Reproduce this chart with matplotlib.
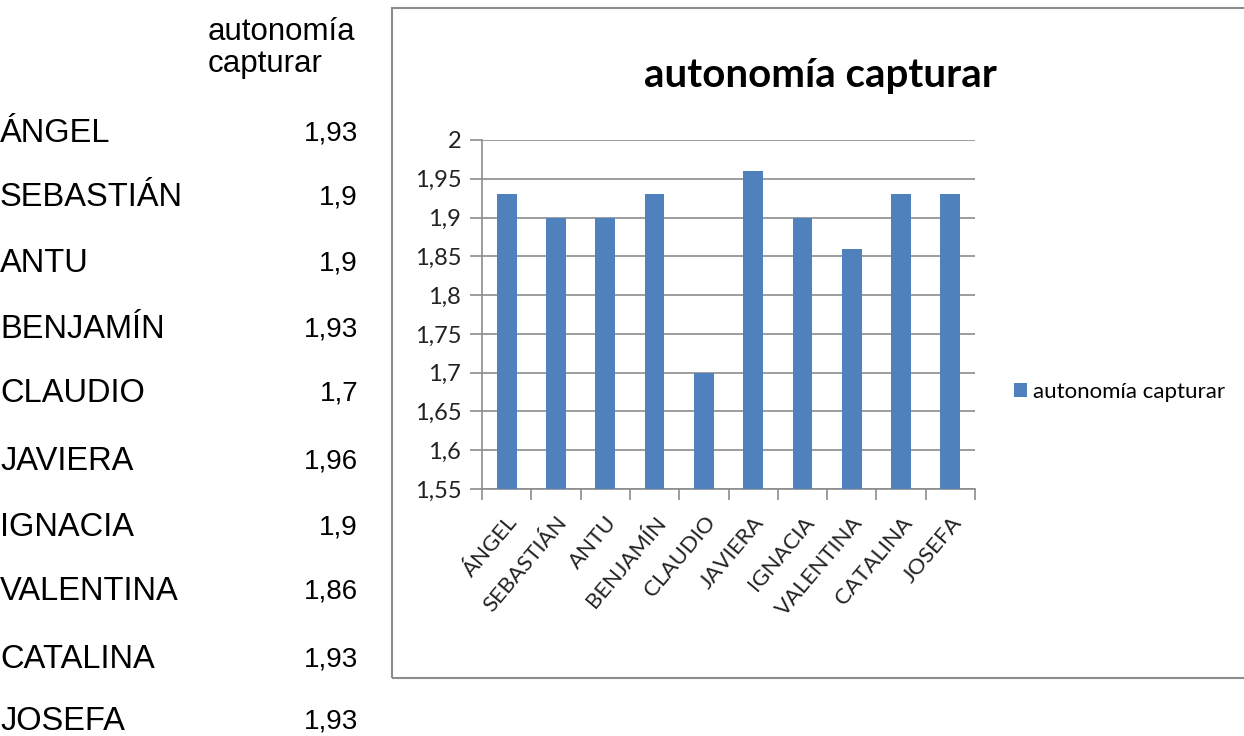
import matplotlib
matplotlib.use("Agg")
import matplotlib.pyplot as plt
from matplotlib.patches import Rectangle
from matplotlib.ticker import FixedLocator

names = ["ÁNGEL", "SEBASTIÁN", "ANTU", "BENJAMÍN", "CLAUDIO",
         "JAVIERA", "IGNACIA", "VALENTINA", "CATALINA", "JOSEFA"]
values = [1.93, 1.9, 1.9, 1.93, 1.7, 1.96, 1.9, 1.86, 1.93, 1.93]
value_labels = ["1,93", "1,9", "1,9", "1,93", "1,7", "1,96", "1,9", "1,86", "1,93", "1,93"]
series_name = "autonomía capturar"
y_ticks = [1.55, 1.6, 1.65, 1.7, 1.75, 1.8, 1.85, 1.9, 1.95, 2.0]
y_tick_labels = ["1,55", "1,6", "1,65", "1,7", "1,75", "1,8", "1,85", "1,9", "1,95", "2"]

W, H = 1244, 736
fig = plt.figure(figsize=(W / 100, H / 100), dpi=100)
fig.patch.set_facecolor("white")

def fx(px):
    return px / W

def fy(py):
    return 1 - py / H

# --- data table on the left ---
table_font = "Liberation Sans"
fig.text(fx(208), fy(32), "autonomía", fontsize=22.5, family=table_font,
         ha="left", va="center")
fig.text(fx(208), fy(64), "capturar", fontsize=22.5, family=table_font,
         ha="left", va="center")
row_y = [133, 197, 264, 329, 394, 461, 528, 592, 659, 721]
for name, lab, ry in zip(names, value_labels, row_y):
    fig.text(fx(0), fy(ry), name, fontsize=23.5, family=table_font,
             ha="left", va="center")
    fig.text(fx(358), fy(ry), lab, fontsize=20, family=table_font,
             ha="right", va="center")

# --- chart frame ---
frame = Rectangle((fx(392), fy(678)), 1.2, fy(8) - fy(678),
                  transform=fig.transFigure, fill=False,
                  edgecolor="#8c8c8c", linewidth=1.5, clip_on=False)
fig.add_artist(frame)

chart_font = "Lato"
fig.text(fx(820), fy(75), series_name, fontsize=29, family=chart_font,
         fontweight="bold", ha="center", va="center")

# --- bar chart ---
x0, x1, ytop, ybot = 482, 975, 140, 489
ax = fig.add_axes([fx(x0), fy(ybot), fx(x1 - x0), fy(ytop) - fy(ybot)])
positions = list(range(len(names)))
bars = ax.bar(positions, values, width=0.4, color="#4F81BD", zorder=3,
              label=series_name)
ax.set_xlim(-0.5, len(names) - 0.5)
ax.set_ylim(1.55, 2.0)

ax.set_yticks(y_ticks)
ax.set_yticklabels(y_tick_labels, family=chart_font, fontsize=17, color="#222222")
ax.yaxis.grid(True, color="#8c8c8c", linewidth=1.2, zorder=0)
ax.tick_params(axis="y", length=9, width=1.2, color="#8c8c8c", pad=6)

ax.xaxis.set_major_locator(FixedLocator([p - 0.5 for p in positions] + [len(names) - 0.5]))
ax.xaxis.set_major_formatter(plt.NullFormatter())
ax.xaxis.set_minor_locator(FixedLocator(positions))
ax.set_xticklabels(names, minor=True, rotation=50, ha="right",
                   rotation_mode="anchor", family=chart_font, fontsize=16,
                   color="#222222")
ax.tick_params(axis="x", which="major", length=8, width=1.2, color="#8c8c8c",
               direction="out")
ax.tick_params(axis="x", which="minor", length=0, pad=17)

for side in ("top", "right"):
    ax.spines[side].set_visible(False)
for side in ("left", "bottom"):
    ax.spines[side].set_color("#8c8c8c")
    ax.spines[side].set_linewidth(1.2)
ax.set_facecolor("white")

fig.legend(handles=[bars], labels=[series_name], loc="center left",
           bbox_to_anchor=(fx(1014), fy(392)), frameon=False,
           prop={"family": chart_font, "size": 16}, handlelength=0.6,
           handleheight=0.6, handletextpad=0.25, borderaxespad=0,
           borderpad=0)

fig.savefig("out.png", dpi=100, facecolor="white")
